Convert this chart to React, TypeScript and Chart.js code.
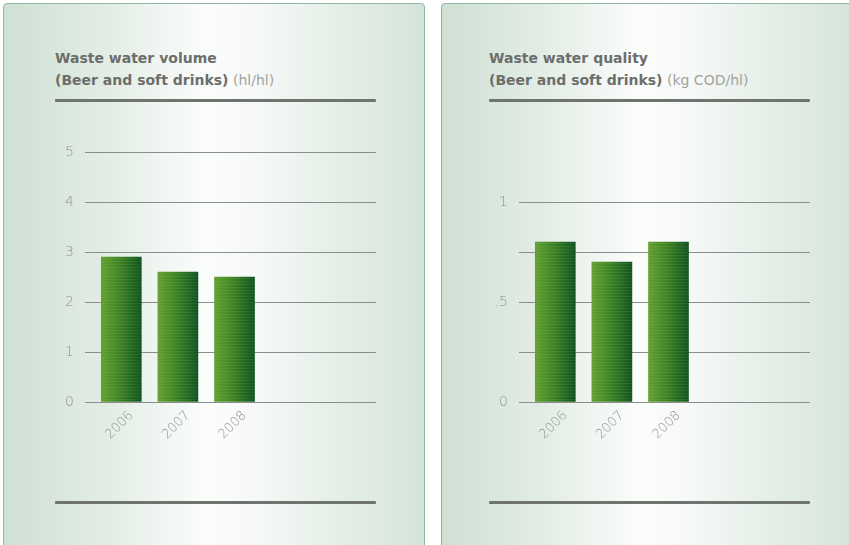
import React, { useEffect, useRef } from 'react';
import { Chart, registerables } from 'chart.js';
Chart.register(...registerables);

const categories = ['2006', '2007', '2008', '', ''];
const volumeValues = [2.9, 2.6, 2.5];
const qualityValues = [0.8, 0.7, 0.8];
const volumeMax = 5;
const volumeStep = 1;
const qualityMax = 1;
const qualityStep = 0.25;
const qualityTickLabels: Record<string, string> = { '0': '0', '0.5': '.5', '1': '1' };

const titleVolume = 'Waste water volume';
const titleQuality = 'Waste water quality';
const subtitle = '(Beer and soft drinks)';
const unitVolume = '(hl/hl)';
const unitQuality = '(kg COD/hl)';

const GRID = '#8a8e8a';
const TICK = '#8f928f';

function barFill(c: any) {
  const chart = c.chart;
  if (!chart.chartArea || !chart.scales.x) return '#3a7f22';
  const x = chart.scales.x.getPixelForValue(c.dataIndex);
  const w = 40;
  const g = chart.ctx.createLinearGradient(x - w / 2, 0, x + w / 2, 0);
  g.addColorStop(0, '#62a030');
  g.addColorStop(0.45, '#3f8424');
  g.addColorStop(1, '#0f5420');
  return g;
}

const stripes = {
  id: 'stripes',
  afterDatasetsDraw(chart: any) {
    const ctx = chart.ctx;
    const meta = chart.getDatasetMeta(0);
    ctx.save();
    ctx.strokeStyle = 'rgba(255,255,255,0.07)';
    ctx.lineWidth = 1;
    meta.data.forEach((el: any) => {
      const { x, y, base, width } = el.getProps(['x', 'y', 'base', 'width'], true);
      for (let yy = y + 1.5; yy < base; yy += 3) {
        ctx.beginPath();
        ctx.moveTo(x - width / 2, yy);
        ctx.lineTo(x + width / 2, yy);
        ctx.stroke();
      }
    });
    ctx.restore();
  },
};

function makeConfig(values: number[], max: number, step: number, padTop: number, padRight: number, label: (v: number) => string) {
  return {
    type: 'bar' as const,
    data: {
      labels: categories,
      datasets: [
        {
          data: values,
          backgroundColor: barFill,
          borderWidth: 0,
          barThickness: 40,
        },
      ],
    },
    options: {
      animation: false as const,
      responsive: false,
      maintainAspectRatio: false,
      layout: { padding: { left: 43, right: padRight, top: padTop, bottom: 83 } },
      plugins: { legend: { display: false }, tooltip: { enabled: false } },
      scales: {
        x: {
          offset: true,
          grid: { display: false, drawTicks: false },
          border: { display: false },
          ticks: {
            color: TICK,
            font: { family: 'DejaVu Sans', size: 13, weight: '200' as any },
            minRotation: 45,
            maxRotation: 45,
            padding: 6,
            labelOffset: 10,
          },
          afterFit(s: any) { s.height = 60; },
        },
        y: {
          min: 0,
          max,
          grid: { color: GRID, lineWidth: 1, drawTicks: true, tickLength: 8, tickColor: GRID },
          border: { display: false },
          ticks: {
            stepSize: step,
            color: TICK,
            padding: 11,
            font: { family: 'DejaVu Sans', size: 14, weight: '200' as any },
            callback: (v: any) => label(Number(v)),
          },
          afterFit(s: any) { s.width = 50; },
        },
      },
    },
    plugins: [stripes],
  };
}

function ChartCanvas(props: { left: number; width: number; cfg: any }) {
  const ref = useRef<HTMLCanvasElement>(null);
  useEffect(() => {
    const chart = new Chart(ref.current as HTMLCanvasElement, props.cfg);
    return () => chart.destroy();
  }, []);
  return (
    <canvas
      ref={ref}
      width={props.width}
      height={545}
      style={{ position: 'absolute', left: props.left, top: 0, width: props.width, height: 545 }}
    />
  );
}

const panelStyle = (left: number, width: number): React.CSSProperties => ({
  position: 'absolute',
  left,
  top: 3,
  width,
  height: 560,
  boxSizing: 'border-box',
  border: '1.5px solid #8fb7a2',
  borderRadius: 4,
  background: 'linear-gradient(90deg, #cfe0d4 0%, #e3ede6 25%, #fbfdfb 48%, #f6f9f7 60%, #e6efe9 78%, #d5e4da 100%)',
});

function Header(props: { left: number; title: string; unit: string }) {
  return (
    <>
      <div
        style={{
          position: 'absolute',
          left: props.left,
          top: 47,
          fontFamily: 'DejaVu Sans',
          fontSize: 14,
          lineHeight: '22px',
          color: '#6c6e6c',
          whiteSpace: 'nowrap',
        }}
      >
        <div style={{ fontWeight: 'bold' }}>{props.title}</div>
        <div>
          <span style={{ fontWeight: 'bold' }}>{subtitle}</span>{' '}
          <span style={{ color: '#a0a3a0' }}>{props.unit}</span>
        </div>
      </div>
      <div style={{ position: 'absolute', left: props.left, top: 99, width: 321, height: 3, background: '#6f746f', borderRadius: 1 }} />
      <div style={{ position: 'absolute', left: props.left, top: 501, width: 321, height: 3, background: '#6f746f', borderRadius: 1 }} />
    </>
  );
}

export default function App() {
  const volCfg = makeConfig(volumeValues, volumeMax, volumeStep, 152, 54, (v) => String(v));
  const qualCfg = makeConfig(qualityValues, qualityMax, qualityStep, 202, 39, (v) => {
    const k = String(v);
    return k in qualityTickLabels ? qualityTickLabels[k] : '';
  });
  return (
    <div style={{ position: 'fixed', left: 0, top: 0, width: 849, height: 545, overflow: 'hidden', background: '#ffffff' }}>
      <div style={panelStyle(3, 422)} />
      <div style={panelStyle(441, 415)} />
      <Header left={55} title={titleVolume} unit={unitVolume} />
      <Header left={489} title={titleQuality} unit={unitQuality} />
      <ChartCanvas left={0} width={430} cfg={volCfg} />
      <ChartCanvas left={434} width={415} cfg={qualCfg} />
    </div>
  );
}
